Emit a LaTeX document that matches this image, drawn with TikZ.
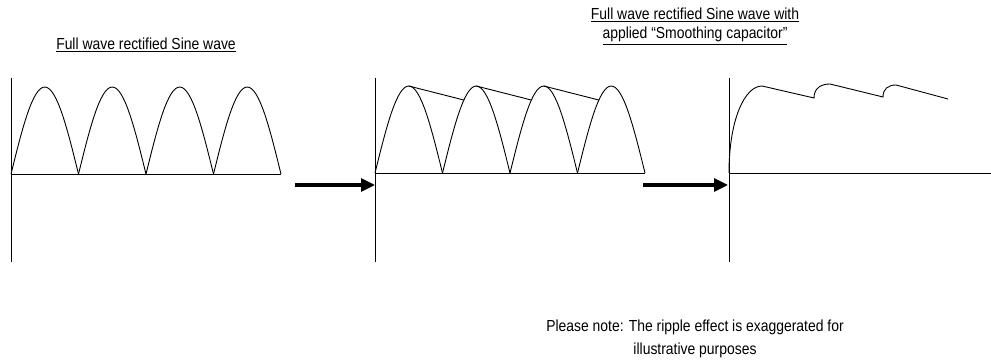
\documentclass[tikz,border=0pt]{standalone}
\usepackage{fontspec}
\setmainfont{Liberation Sans}[FakeStretch=0.87]
\usetikzlibrary{arrows.meta}

\begin{document}
\begin{tikzpicture}[x=1pt, y=1pt, line width=0.9pt,
    bigarrow/.style={line width=3.2pt, -{Triangle[length=14pt, width=13pt]}},
    caption/.style={font=\fontsize{16}{19}\selectfont, align=center, inner sep=0pt}]
    \useasboundingbox (0,0) rectangle (991,359);

    % panel origins
    \coordinate (O1) at (11,185);
    \coordinate (O2) at (375,186);
    \coordinate (O3) at (729,186);

    % axes
    \draw (11,281) -- (11,97);
    \draw (O1) -- (281,185);
    \draw (375,281) -- (375,97);
    \draw (O2) -- (645,186);
    \draw (729,281) -- (729,97);
    \draw (O3) -- (991,186);

    % full wave rectified sine
    \foreach \i in {0,...,3} {
        \draw ({11+67.5*\i},185) sin ++(33.75,87) cos ++(33.75,-87);
    }

    % same wave with the discharge lines
    \foreach \i in {0,...,3} {
        \draw ({375+67.5*\i},186) sin ++(33.75,87) cos ++(33.75,-87);
    }
    \foreach \i in {0,1,2} {
        \draw ({408.75+67.5*\i},273) -- ({375+67.5*(\i+1)+67.5*57/180},{186+87*sin(57)});
    }

    % smoothed output
    \draw (O3) .. controls (729,240) and (745,273) .. (762,273) -- (814,261)
        .. controls (814,270) and (820,275) .. (830,275) -- (883,262)
        .. controls (883,270) and (888,274) .. (896,274) -- (948,260);

    % arrows between the panels
    \coordinate (a1) at (295,174);
    \coordinate (b1) at (375,174);
    \coordinate (a2) at (643,174);
    \coordinate (b2) at (728,174);
    \draw[bigarrow] (a1) -- (b1);
    \draw[bigarrow] (a2) -- (b2);

    % captions
    \node[caption, anchor=base] (title1) at (146,309) {\underline{Full wave rectified Sine wave}};
    \node[caption, anchor=base] (title2) at (695,320) {\underline{Full wave rectified Sine wave with}\\\underline{applied “Smoothing capacitor”}};
    \node[caption, font=\fontsize{16}{23}\selectfont, anchor=base] (note) at (695,5) {Please note: The ripple effect is exaggerated for\\illustrative purposes};
\end{tikzpicture}
\end{document}
